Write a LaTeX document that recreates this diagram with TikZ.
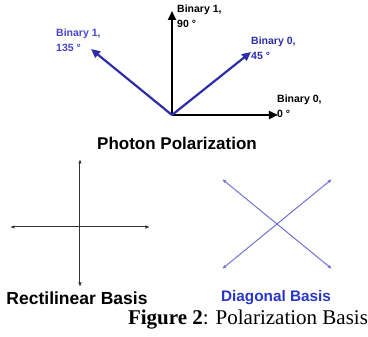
\documentclass[tikz,border=0pt]{standalone}
\usepackage{fontspec}
\setmainfont{Liberation Serif}
\setsansfont{Liberation Sans}
\usetikzlibrary{arrows.meta}

\definecolor{polblue}{RGB}{45,45,170}
\definecolor{labblue}{RGB}{70,70,200}
\definecolor{diagblue}{RGB}{115,115,210}
\definecolor{basisblue}{RGB}{40,55,200}

\begin{document}
\begin{tikzpicture}[
    x=1pt, y=-1pt,
    every node/.style={inner sep=0pt, font=\sffamily\bfseries},
    statelabel/.style={anchor=north west, align=left, font=\sffamily\bfseries\fontsize{10.5}{14.5}\selectfont},
    photon/.style={draw, line width=2.2pt, -{Triangle[length=9pt,width=8pt]}},
    basisline/.style={draw, line width=1pt, {Latex[length=4.5pt,width=3.5pt]}-{Latex[length=4.5pt,width=3.5pt]}},
    title/.style={font=\sffamily\bfseries\fontsize{17}{19}\selectfont}
  ]
  \useasboundingbox (0,0) rectangle (368,337);

  % Photon polarization
  \coordinate (o) at (172,115);
  \coordinate (p0) at (278,115);
  \coordinate (p45) at (251,52);
  \coordinate (p90) at (172,11);
  \coordinate (p135) at (91,49);
  \draw[photon] (o) -- (p0);
  \draw[photon] (o) -- (p90);
  \draw[photon, polblue] (o) -- (p45);
  \draw[photon, polblue] (o) -- (p135);

  \node[statelabel] (l90) at (177,5) {Binary 1,\\90 °};
  \node[statelabel, labblue] (l135) at (56,29) {Binary 1,\\135 °};
  \node[statelabel, polblue] (l45) at (251,37) {Binary 0,\\45 °};
  \node[statelabel] (l0) at (277,95) {Binary 0,\\0 °};

  \node[title] (ptitle) at (177,143) {Photon Polarization};

  % Rectilinear basis
  \coordinate (rc) at (80,227);
  \coordinate (rt) at (80,159);
  \coordinate (rb) at (80,287);
  \coordinate (rl) at (10,227);
  \coordinate (rr) at (150,227);
  \draw[basisline, black!80] (rt) -- (rb);
  \draw[basisline, black!80] (rl) -- (rr);
  \node[title, font=\sffamily\bfseries\fontsize{17.5}{19}\selectfont] (rtitle) at (77,298) {Rectilinear Basis};

  % Diagonal basis
  \coordinate (dtl) at (222,179);
  \coordinate (dtr) at (332,179);
  \coordinate (dbl) at (222,269);
  \coordinate (dbr) at (332,269);
  \draw[basisline, diagblue] (dtl) -- (dbr);
  \draw[basisline, diagblue] (dbl) -- (dtr);
  \node[title, basisblue, font=\sffamily\bfseries\fontsize{15.3}{17}\selectfont] (dtitle) at (276,298) {Diagonal Basis};

  % Caption
  \node[font=\rmfamily\fontsize{21}{23}\selectfont, anchor=base] (cap) at (248,325)
    {\textbf{Figure 2}: Polarization Basis};
\end{tikzpicture}
\end{document}
